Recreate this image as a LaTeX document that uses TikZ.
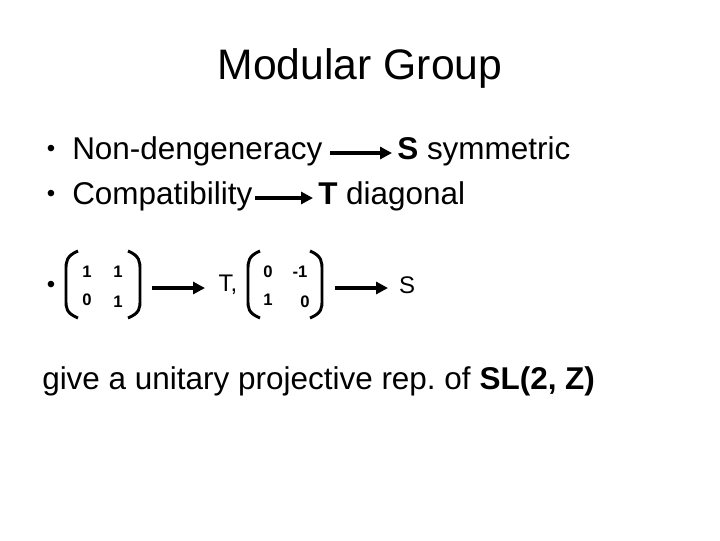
\documentclass[tikz,border=0pt]{standalone}
\usepackage{fontspec}
\setmainfont{Liberation Sans}
\usetikzlibrary{arrows.meta}
\frenchspacing
\begin{document}
\begin{tikzpicture}[x=0.75pt,y=-0.75pt,
  big/.style={font=\fontsize{23.6}{26}\selectfont,inner sep=0pt},
  bul/.style={font=\fontsize{18}{20}\selectfont,inner sep=0pt},
  small/.style={font=\fontsize{12.5}{14}\selectfont\bfseries,inner sep=0pt},
  mid/.style={font=\fontsize{18}{20}\selectfont,inner sep=0pt},
  arr/.style={line width=3pt,-{Triangle[length=9pt,width=9pt]}},
  par/.style={line width=2.2pt}]
\useasboundingbox (0,0) rectangle (720,540);
\node[font=\fontsize{32}{36}\selectfont] (title) at (360,68) {Modular Group};
\node[bul] (b1) at (51,151) {•};
\node[big,anchor=west] (t1) at (72,151) {Non-dengeneracy};
\node[big,anchor=west] (t2) at (397,151) {\textbf{S} symmetric};
\draw[arr] (330,153) -- (392,153);
\node[bul] (b2) at (51,196) {•};
\node[big,anchor=west] (t3) at (72,196) {Compatibility};
\node[big,anchor=west] (t4) at (318,196) {\textbf{T} diagonal};
\draw[arr] (255,198) -- (313,198);
\node[bul] (b3) at (51,287) {•};
% matrix 1
\draw[par] (78,251) .. controls (66,256) and (66,262) .. (66,270) -- (66,300) .. controls (66,308) and (66,313) .. (78,318);
\draw[par] (128,251) .. controls (140,256) and (140,262) .. (140,270) -- (140,300) .. controls (140,308) and (140,313) .. (128,318);
\node[small] (a11) at (87,272) {1};
\node[small] (a12) at (118,272) {1};
\node[small] (a21) at (87,300) {0};
\node[small] (a22) at (118,302) {1};
\coordinate (p1) at (152,288);
\coordinate (p2) at (205,288);
\draw[arr] (p1) -- (p2);
\node[mid] (T) at (228,285) {T,};
% matrix 2
\draw[par] (260,251) .. controls (248,256) and (248,262) .. (248,270) -- (248,300) .. controls (248,308) and (248,313) .. (260,318);
\draw[par] (310,251) .. controls (322,256) and (322,262) .. (322,270) -- (322,300) .. controls (322,308) and (322,313) .. (310,318);
\node[small] (c11) at (268,272) {0};
\node[small] (c12) at (300,272) {-1};
\node[small] (c21) at (268,300) {1};
\node[small] (c22) at (305,302) {0};
\coordinate (q1) at (335,288);
\coordinate (q2) at (388,288);
\draw[arr] (q1) -- (q2);
\node[mid] (S) at (407,285) {S};
\node[big,anchor=west] (last) at (42,381) {give a unitary projective rep. of \textbf{SL(2, Z)}};
\end{tikzpicture}
\end{document}
